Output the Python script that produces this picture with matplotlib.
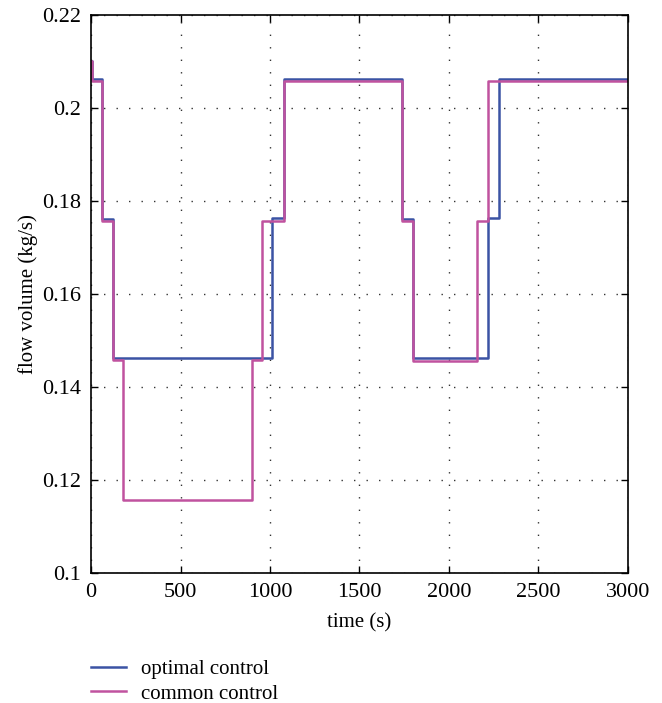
import matplotlib
matplotlib.use('Agg')
import matplotlib.pyplot as plt

plt.rcParams['font.family'] = ['Liberation Serif', 'DejaVu Serif']

# step data: time at which each level starts (s), flow volume (kg/s)
opt_t = [0, 5, 60, 120, 1013, 1078, 1740, 1800, 2216, 2281, 3000]
opt_q = [0.2100, 0.2062, 0.1762, 0.1463, 0.1763, 0.2062, 0.1762, 0.1462, 0.1763, 0.2062, 0.2062]

com_t = [0, 5, 60, 120, 180, 902, 957, 1078, 1740, 1800, 2158, 2219, 3000]
com_q = [0.2100, 0.2057, 0.1757, 0.1457, 0.1157, 0.1458, 0.1757, 0.2057, 0.1757, 0.1455, 0.1757, 0.2057, 0.2057]

xticks = [0, 500, 1000, 1500, 2000, 2500, 3000]
yticks = [0.1, 0.12, 0.14, 0.16, 0.18, 0.2, 0.22]
ytick_labels = ['0.1', '0.12', '0.14', '0.16', '0.18', '0.2', '0.22']

fig = plt.figure(figsize=(6.62, 7.03), dpi=100)
ax = fig.add_axes([0.1375, 0.1849, 0.8111, 0.7938])

ax.plot(opt_t, opt_q, drawstyle='steps-post', color='#3b53a4', lw=1.8, label='optimal control')
ax.plot(com_t, com_q, drawstyle='steps-post', color='#c0529f', lw=1.8, label='common control')

ax.set_xlim(0, 3000)
ax.set_ylim(0.1, 0.22)
ax.set_xticks(xticks)
ax.set_yticks(yticks)
ax.set_yticklabels(ytick_labels)
ax.tick_params(direction='in', top=True, right=True, labelsize=16, length=5, width=1)
ax.tick_params(axis='x', pad=7)
ax.tick_params(axis='y', pad=7)
ax.grid(True, color='#333333', ls=(0, (1, 8)), lw=1.0)
for s in ax.spines.values():
    s.set_linewidth(1.2)

ax.set_xlabel('time (s)', fontsize=15, labelpad=8)
ax.set_ylabel('flow volume (kg/s)', fontsize=15)
ax.yaxis.set_label_coords(-0.099, 0.5)

fig.legend(loc='upper left', bbox_to_anchor=(0.137, 0.062),
           frameon=False, fontsize=15, handlelength=1.7, handletextpad=0.7,
           labelspacing=0.25, borderaxespad=0, borderpad=0)

fig.savefig('out.png', dpi=100)
